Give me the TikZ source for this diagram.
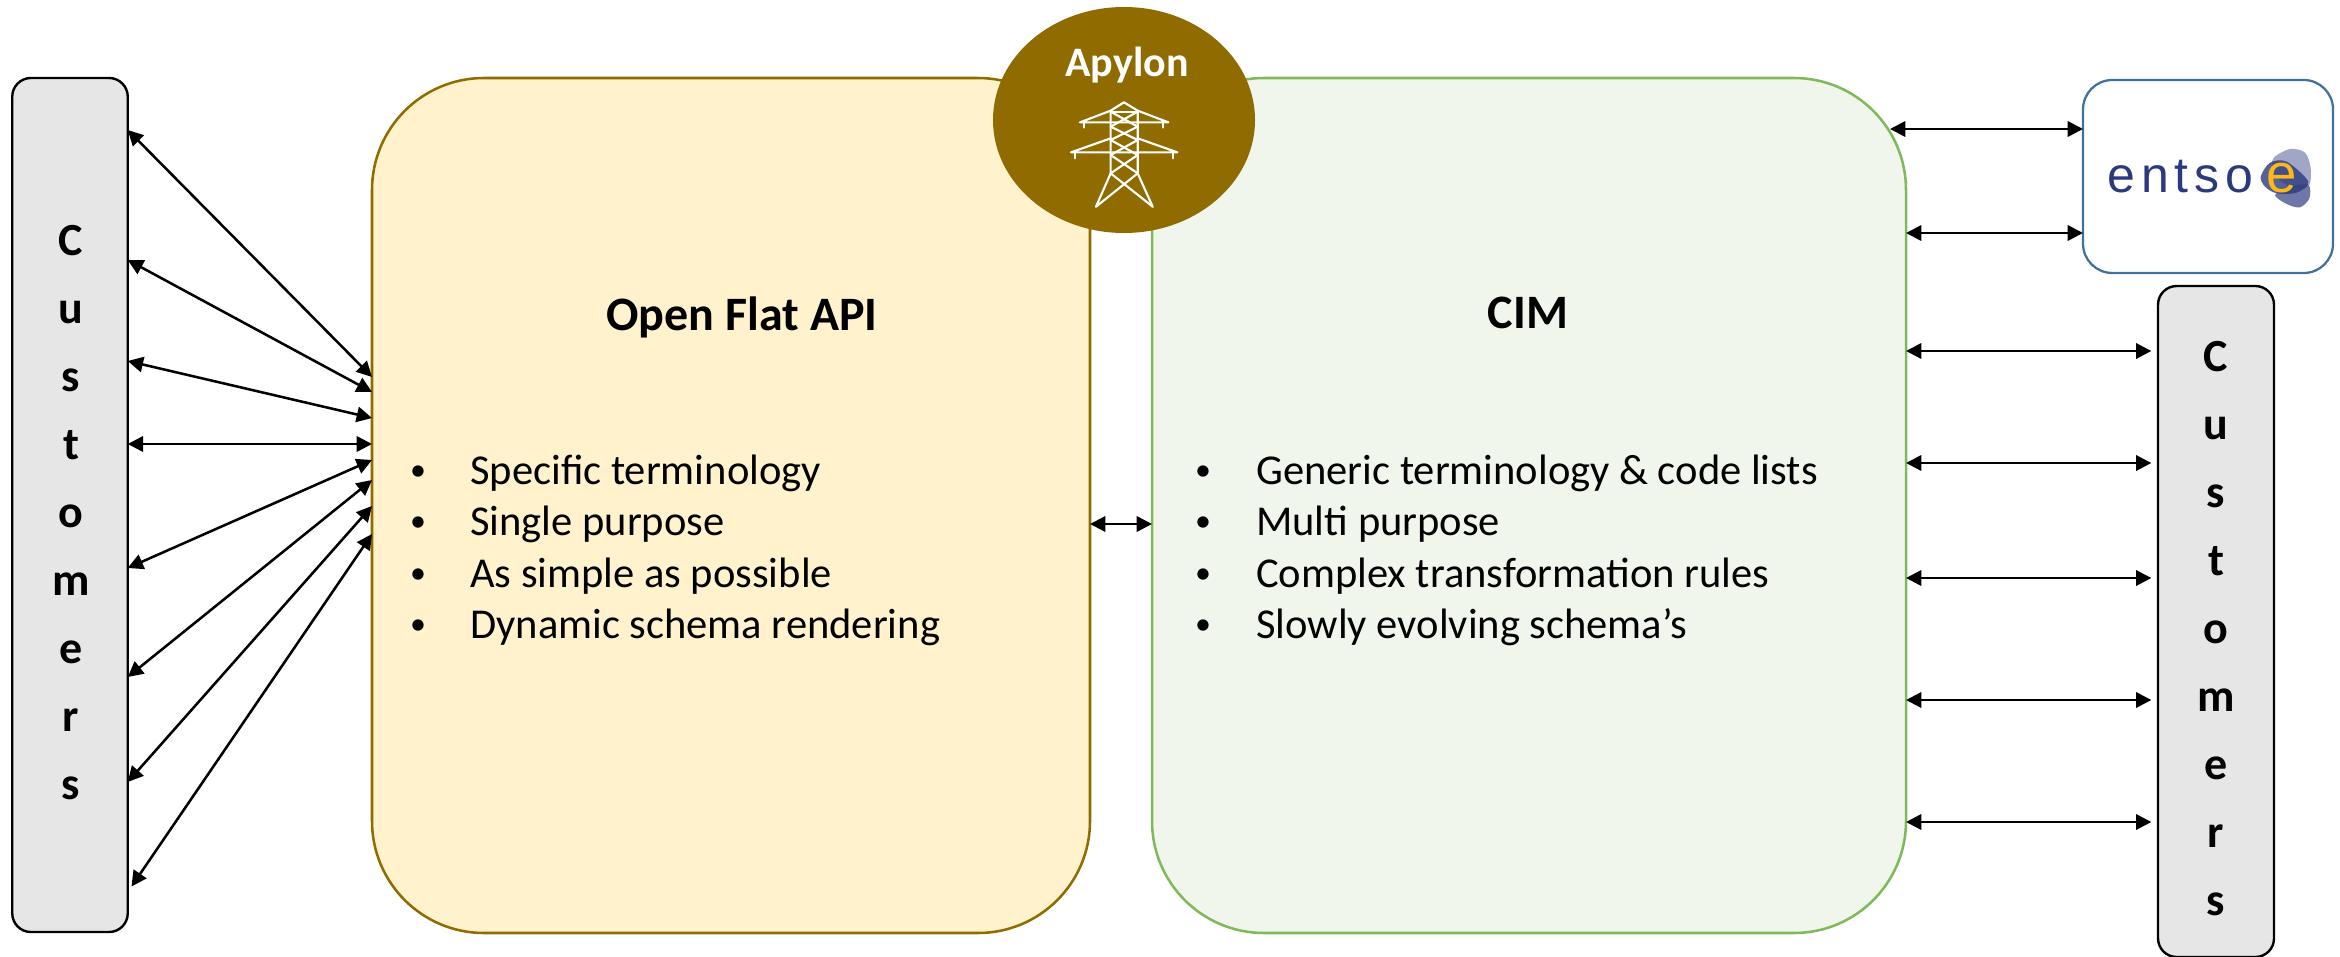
\documentclass[tikz,border=0pt]{standalone}
\usepackage{fontspec}
\usepackage{tikz}
\usetikzlibrary{arrows.meta,shapes.geometric}
\setmainfont{Carlito}
\newfontfamily\logofont[LetterSpace=12]{Liberation Sans}
\definecolor{flatfill}{HTML}{FFF2CC}
\definecolor{flatline}{HTML}{8F6B00}
\definecolor{cimfill}{HTML}{F1F6EC}
\definecolor{cimline}{HTML}{7FBA5A}
\definecolor{custfill}{HTML}{E6E6E6}
\definecolor{entsoeline}{HTML}{41719C}
\definecolor{logoblue}{HTML}{2B3A7E}
\definecolor{logoyellow}{HTML}{FDB813}
\tikzset{
  panel/.style={draw,rounded corners=84pt,line width=1.9pt,inner sep=0pt,outer sep=0pt},
  custbox/.style={draw=black,fill=custfill,rounded corners=14pt,line width=1.8pt,inner sep=0pt,outer sep=0pt},
  link/.style={{Triangle[length=11.5pt,width=11.5pt]}-{Triangle[length=11.5pt,width=11.5pt]},line width=1.9pt},
  heading/.style={font=\fontsize{36}{42}\selectfont\bfseries,inner sep=0pt,anchor=base},
  letter/.style={font=\fontsize{34.5}{42}\selectfont\bfseries,inner sep=0pt,anchor=base},
  bodytext/.style={font=\fontsize{31.9}{38}\selectfont,inner sep=0pt,anchor=base west},
  bullet/.style={font=\fontsize{24}{30}\selectfont,inner sep=0pt,anchor=base},
  wire/.style={draw=white,line width=1.6pt,line cap=round,line join=round}
}
\begin{document}
\begin{tikzpicture}[x=0.75pt,y=0.75pt,yscale=-1]
\useasboundingbox (0,0) rectangle (2340,956);

%Shape: Panels
\node[panel,draw=flatline,fill=flatfill,minimum width=718*0.75pt,minimum height=855*0.75pt] (flat) at (731,505.5) {};
\node[panel,draw=cimline,fill=cimfill,minimum width=754*0.75pt,minimum height=855*0.75pt] (cim) at (1529,505.5) {};
\node[custbox,minimum width=115.5*0.75pt,minimum height=854*0.75pt] (custleft) at (70,505) {};
\node[custbox,minimum width=116*0.75pt,minimum height=671*0.75pt] (custright) at (2216,621.5) {};
\node[panel,draw=entsoeline,fill=white,rounded corners=22pt,line width=1.7pt,minimum width=250*0.75pt,minimum height=193*0.75pt] (entsoe) at (2208,176.5) {};
\node[ellipse,fill=flatline,inner sep=0pt,minimum width=262*0.75pt,minimum height=226*0.75pt] (apylon) at (1124,120) {};

%Straight Lines: customers on the left
\foreach \ya/\yb [count=\i] in {130/377,260/392,361/418,444/444,568/460,677/480,782/506}
  \draw[link] (custleft.east |- 0,\ya) -- (flat.west |- 0,\yb);
\draw[link,shorten <=5pt] (custleft.east |- 0,892) -- (flat.west |- 0,534);

%Straight Lines: customers on the right
\foreach \y in {351,463,578,700,822}
  \draw[link,shorten >=5pt] (cim.east |- 0,\y) -- (custright.west |- 0,\y);

%Straight Lines: the rest
\draw[link] (flat.east |- 0,524) -- (cim.west |- 0,524);
\draw[link,shorten <=-12pt] (cim.east |- 0,129) -- (entsoe.west |- 0,129);
\draw[link] (cim.east |- 0,233) -- (entsoe.west |- 0,233);

% Text Node
\node[heading] (flattitle) at (742,330) {Open Flat API};
% Text Node
\node[heading] (cimtitle) at (1528,328) {CIM};
% Text Node
\node[heading,text=white,font=\fontsize{31.5}{38}\selectfont\bfseries] (apylontitle) at (1127,77) {Apylon};

% Text Node
\foreach \y/\txt [count=\i] in {484/Specific terminology,535/Single purpose,587/As simple as possible,638/Dynamic schema rendering}{
  \node[bullet] (flatdot\i) at (418,\y-4) {•};
  \node[bodytext] (flatitem\i) at (470,\y) {\txt};
}
% Text Node
\foreach \y/\txt [count=\i] in {484/Generic terminology \& code lists,535/Multi purpose,587/Complex transformation rules,638/Slowly evolving schema’s}{
  \node[bullet] (cimdot\i) at (1203,\y-4) {•};
  \node[bodytext] (cimitem\i) at (1256,\y) {\txt};
}

% Text Node
\foreach \c [count=\i] in {C,u,s,t,o,m,e,r,s}{
  \node[letter] (leftletter\i) at (71,187+68*\i) {\c};
  \node[letter] (rightletter\i) at (2216,303+68*\i) {\c};
}

%Shape: Logo
\begin{scope}[shift={(2240,130)},x=0.25pt,y=0.25pt]
\fill[fill=logoblue!45!white] plot[smooth cycle] coordinates {(100,85) (150,57) (195,68) (212,115) (205,170) (150,170) (100,130)};
\fill[fill=logoblue!80!white,opacity=.85] plot[smooth cycle] coordinates {(105,195) (150,170) (205,165) (208,205) (180,232) (140,222)};
\fill[fill=logoblue,opacity=.8] plot[smooth cycle] coordinates {(62,140) (90,98) (140,95) (205,155) (170,188) (110,190) (75,170)};
\end{scope}
\node[font=\logofont\fontsize{37.5}{42}\selectfont,text=logoblue,inner sep=0pt,anchor=base west] (entsotext) at (2107,192) {entso};
\node[font=\logofont\fontsize{41}{42}\selectfont,text=logoyellow,inner sep=0pt,anchor=base] (entsoyellow) at (2282,192.5) {e};

%Shape: Pylon
\begin{scope}[shift={(1060,90)},x=0.25pt,y=0.25pt]
\draw[wire] (108,350) -- (152,250) -- (152,62) -- (192,37) -- (233,62) -- (233,250) -- (278,350);
\draw[wire] (152,65) -- (233,65);
\draw[wire] (152,62) -- (60,97) -- (325,97) -- (233,62);
\draw[wire] (73,97) -- (73,113);
\draw[wire] (310,97) -- (310,113);
\draw[wire] (152,145) -- (33,187) -- (352,187) -- (233,145);
\draw[wire] (45,187) -- (45,205);
\draw[wire] (338,187) -- (338,205);
\foreach \ya/\yb in {65/110,110/150,150/195,195/250}{
  \draw[wire] (152,\ya) -- (233,\yb);
  \draw[wire] (233,\ya) -- (152,\yb);
}
\draw[wire] (152,250) -- (278,350);
\draw[wire] (233,250) -- (108,350);
\end{scope}

\end{tikzpicture}
\end{document}
